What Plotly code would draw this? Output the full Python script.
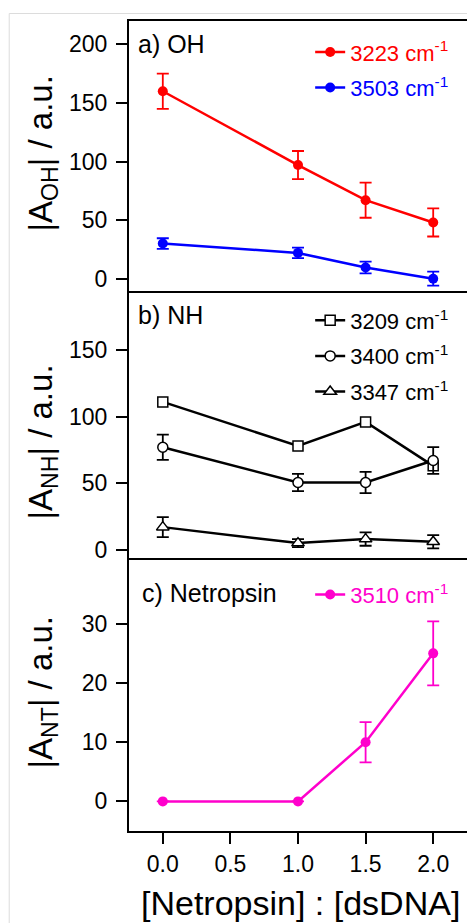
import plotly.graph_objects as go

# ---- data ----
x_ratio = [0.0, 1.0, 1.5, 2.0]
oh_3223 = [160, 97, 67, 48]
oh_3223_err = [15, 12, 15, 12]
oh_3503 = [30, 22, 9.5, 0]
oh_3503_err = [4.5, 4.5, 5, 6]
nh_3209 = [111, 78, 96, 63]
nh_3400 = [77, 50.5, 50.5, 67]
nh_3400_err = [9.5, 6.5, 8, 10]
nh_3347 = [17, 5, 8, 6]
nh_3347_err = [7.5, 3, 5, 5]
nt_3510 = [0, 0, 10, 25]
nt_3510_err = [0, 0, 3.4, 5.4]
x_ticks = [0.0, 0.5, 1.0, 1.5, 2.0]
x_ticklabels = ["0.0", "0.5", "1.0", "1.5", "2.0"]

FONT = "Liberation Sans, Arial, sans-serif"
RED = "#ff0000"
BLUE = "#0000ff"
MAG = "#ff00cc"

# window px -> paper coords (figure sits at the page's 8px body offset)
def px(wx):
    return (wx - 129) / 340

def py(wy):
    return (831 - wy) / 810

fig = go.Figure()

def eb(arr, color):
    return dict(type="data", array=arr, visible=True, color=color, thickness=1.8, width=6)

LW = 2.5

# panel a (top): x3/y3
fig.add_trace(go.Scatter(x=x_ratio, y=oh_3223, mode="lines+markers", xaxis="x3", yaxis="y3",
                         line=dict(color=RED, width=LW), marker=dict(color=RED, size=10),
                         error_y=eb(oh_3223_err, RED), legend="legend", legendgroup="a1",
                         name='<span style="color:#ff0000">3223 cm<sup>-1</sup></span>'))
fig.add_trace(go.Scatter(x=x_ratio, y=oh_3503, mode="lines+markers", xaxis="x3", yaxis="y3",
                         line=dict(color=BLUE, width=LW), marker=dict(color=BLUE, size=10),
                         error_y=eb(oh_3503_err, BLUE), legend="legend", legendgroup="a2",
                         name='<span style="color:#0000ff">3503 cm<sup>-1</sup></span>'))

# panel b (middle): x2/y2
mk = dict(color="white", size=10, line=dict(color="black", width=1.5))
fig.add_trace(go.Scatter(x=x_ratio, y=nh_3209, mode="lines+markers", xaxis="x2", yaxis="y2",
                         line=dict(color="black", width=LW), marker=dict(mk, symbol="square"),
                         legend="legend2", legendgroup="b1", name="3209 cm<sup>-1</sup>"))
fig.add_trace(go.Scatter(x=x_ratio, y=nh_3400, mode="lines+markers", xaxis="x2", yaxis="y2",
                         line=dict(color="black", width=LW), marker=dict(mk, symbol="circle"),
                         error_y=eb(nh_3400_err, "black"),
                         legend="legend2", legendgroup="b2", name="3400 cm<sup>-1</sup>"))
fig.add_trace(go.Scatter(x=x_ratio, y=nh_3347, mode="lines+markers", xaxis="x2", yaxis="y2",
                         line=dict(color="black", width=LW), marker=dict(mk, symbol="triangle-up", size=11),
                         error_y=eb(nh_3347_err, "black"),
                         legend="legend2", legendgroup="b3", name="3347 cm<sup>-1</sup>"))

# panel c (bottom): x/y
fig.add_trace(go.Scatter(x=x_ratio, y=nt_3510, mode="lines+markers", xaxis="x", yaxis="y",
                         line=dict(color=MAG, width=LW), marker=dict(color=MAG, size=10),
                         error_y=eb(nt_3510_err, MAG), legend="legend3",
                         name='<span style="color:#ff00cc">3510 cm<sup>-1</sup></span>'))

base = dict(showline=True, linewidth=2, linecolor="black",
            showgrid=False, zeroline=False, color="black")
yt = dict(ticks="outside", ticklen=11, tickwidth=2, tickcolor="black",
          tickfont=dict(size=23), ticklabelstandoff=4, mirror=True)

fig.update_layout(
    width=467, height=915,
    margin=dict(l=121, r=6, t=13, b=92),
    paper_bgcolor="white", plot_bgcolor="white",
    font=dict(family=FONT, size=22, color="black"),
    xaxis=dict(base, range=[-0.25, 2.25], anchor="y", mirror=False, ticks="outside", ticklen=11,
               tickwidth=2, tickcolor="black", tickvals=x_ticks, ticktext=x_ticklabels,
               tickfont=dict(size=23)),
    xaxis2=dict(base, range=[-0.25, 2.25], anchor="y2", matches="x", mirror=False,
                showticklabels=False, ticks=""),
    xaxis3=dict(base, range=[-0.25, 2.25], anchor="y3", matches="x", mirror=True,
                showticklabels=False, ticks=""),
    yaxis=dict(base, **yt, domain=[0, 0.337], range=[-5, 41.1], tickvals=[0, 10, 20, 30]),
    yaxis2=dict(base, **yt, domain=[0.337, 0.6667], range=[-6.2, 194.3], tickvals=[0, 50, 100, 150]),
    yaxis3=dict(base, **yt, domain=[0.6667, 1], range=[-10.5, 220], tickvals=[0, 50, 100, 150, 200]),
    legend=dict(x=0.536, y=0.9875, xanchor="left", yanchor="top", bgcolor="rgba(0,0,0,0)",
                font=dict(size=22), traceorder="grouped", tracegroupgap=4),
    legend2=dict(x=0.536, y=0.6562, xanchor="left", yanchor="top", bgcolor="rgba(0,0,0,0)",
                 font=dict(size=22), traceorder="grouped", tracegroupgap=4),
    legend3=dict(x=0.536, y=0.3176, xanchor="left", yanchor="top", bgcolor="rgba(0,0,0,0)",
                 font=dict(size=22)),
    showlegend=True,
)

ann = [
    dict(text="a) OH", x=px(136), y=py(44), xanchor="left", yanchor="middle", font=dict(size=25)),
    dict(text="b) NH", x=px(136), y=py(315), xanchor="left", yanchor="middle", font=dict(size=25)),
    dict(text="c) Netropsin", x=px(140), y=py(593), xanchor="left", yanchor="middle", font=dict(size=25)),
    dict(text="|A<sub>OH</sub>| / a.u.", x=px(42), y=py(154), textangle=-90,
         xanchor="center", yanchor="middle", font=dict(size=33)),
    dict(text="|A<sub>NH</sub>| / a.u.", x=px(42), y=py(442), textangle=-90,
         xanchor="center", yanchor="middle", font=dict(size=33)),
    dict(text="|A<sub>NT</sub>| / a.u.", x=px(42), y=py(692), textangle=-90,
         xanchor="center", yanchor="middle", font=dict(size=33)),
    dict(text="[Netropsin] : [dsDNA]", x=px(302), y=py(903),
         xanchor="center", yanchor="middle", font=dict(size=34)),
]
for a in ann:
    a.update(xref="paper", yref="paper", showarrow=False)
fig.update_layout(annotations=ann)

fig.add_shape(type="rect", xref="paper", yref="paper",
              x0=px(8.5), x1=px(495), y0=py(945), y1=py(13.5),
              line=dict(color="#dcdcdc", width=1), fillcolor="rgba(0,0,0,0)", layer="below")

fig.write_html("out.html")
